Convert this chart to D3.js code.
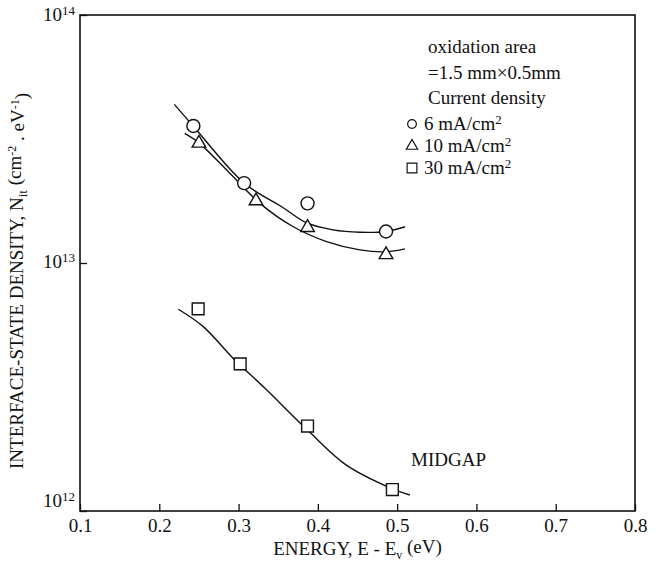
<!DOCTYPE html>
<html>
<head>
<meta charset="utf-8">
<script src="https://cdn.jsdelivr.net/npm/d3@7"></script>
<style>
  body { margin: 0; background: #fff; }
  svg text, svg tspan { font-family: "Liberation Serif", "DejaVu Serif", serif !important; fill: #111; }
</style>
</head>
<body>
<svg width="661" height="564"></svg>
<script>
const width = 661;
const height = 564;
const padLeft = 80, padRight = 635, padTop = 15, padBottom = 511;

// measured points
const energy6 = [0.243, 0.307, 0.387, 0.486];
const nit6 = [3.57e13, 2.10e13, 1.74e13, 1.34e13];
const energy10 = [0.250, 0.322, 0.387, 0.486];
const nit10 = [3.04e13, 1.78e13, 1.39e13, 1.08e13];
const energy30 = [0.249, 0.302, 0.387, 0.494];
const nit30 = [6.53e12, 3.92e12, 2.20e12, 1.22e12];

// hand-drawn fit curves
const fitE6 = [0.219, 0.243, 0.307, 0.354, 0.386, 0.419, 0.453, 0.486, 0.51];
const fitN6 = [4.36e13, 3.56e13, 2.10e13, 1.69e13, 1.45e13, 1.36e13, 1.33e13, 1.34e13, 1.40e13];
const fitE10 = [0.232, 0.250, 0.289, 0.327, 0.369, 0.411, 0.453, 0.486, 0.51];
const fitN10 = [3.33e13, 3.05e13, 2.30e13, 1.74e13, 1.40e13, 1.22e13, 1.13e13, 1.11e13, 1.14e13];
const fitE30 = [0.224, 0.2555, 0.293, 0.333, 0.387, 0.436, 0.491, 0.516];
const fitN30 = [6.51e12, 5.54e12, 4.13e12, 3.13e12, 2.12e12, 1.53e12, 1.24e12, 1.16e12];

const xTicks = [0.1, 0.2, 0.3, 0.4, 0.5, 0.6, 0.7, 0.8];
const yTicks = [1e12, 1e13, 1e14];
const legendLabels = ["6", "10", "30"];

const zip = (xs, ys) => xs.map((x, i) => [x, ys[i]]);

let xScale = d3.scaleLinear()
  .domain([0.1, 0.8])
  .range([padLeft, padRight]);

let yScale = d3.scaleLog()
  .domain([1e12, 1e14])
  .range([padBottom, padTop]);

const svg = d3.select("svg");

// axes
const xAxis = d3.axisBottom(xScale)
  .tickValues(xTicks)
  .tickSize(-7)
  .tickSizeOuter(0)
  .tickPadding(8)
  .tickFormat(d3.format(".1f"));

svg.append("g")
    .attr("transform", `translate(0, ${padBottom})`)
    .call(xAxis)
    .call(g => g.select(".domain").remove())
    .call(g => g.selectAll("line").attr("stroke", "#111").attr("stroke-width", 1.3))
    .call(g => g.selectAll("text").style("font-size", "19px"));

const yAxis = d3.axisLeft(yScale)
  .tickValues(yTicks)
  .tickSize(-7)
  .tickSizeOuter(0)
  .tickFormat("");

svg.append("g")
    .attr("transform", `translate(${padLeft}, 0)`)
    .call(yAxis)
    .call(g => g.select(".domain").remove())
    .call(g => g.selectAll("line").attr("stroke", "#111").attr("stroke-width", 1.3));

// y tick labels 10^n
const yLab = svg.append("g")
  .selectAll("text")
  .data(yTicks)
  .enter()
  .append("text")
    .attr("x", padLeft - 5)
    .attr("y", d => Math.min(Math.max(yScale(d) + 5, 21), 507))
    .attr("text-anchor", "end")
    .style("font-size", "19px");
yLab.append("tspan").text("10");
yLab.append("tspan")
    .attr("dy", "-0.45em")
    .style("font-size", "13px")
    .text(d => Math.round(Math.log10(d)));

// frame
svg.append("rect")
    .attr("x", padLeft)
    .attr("y", padTop)
    .attr("width", padRight - padLeft)
    .attr("height", padBottom - padTop)
    .attr("fill", "none")
    .attr("stroke", "#111")
    .attr("stroke-width", 1.6);

// fit curves
const line = d3.line()
  .x(d => xScale(d[0]))
  .y(d => yScale(d[1]))
  .curve(d3.curveCatmullRom.alpha(0.5));

[zip(fitE6, fitN6), zip(fitE10, fitN10), zip(fitE30, fitN30)].forEach(pts => {
  svg.append("path")
      .datum(pts)
      .attr("d", line)
      .attr("fill", "none")
      .attr("stroke", "#111")
      .attr("stroke-width", 1.4);
});

// markers
const markerStyle = sel => sel
  .attr("fill", "#fff")
  .attr("stroke", "#111")
  .attr("stroke-width", 1.4);

svg.append("g")
  .selectAll("circle")
  .data(zip(energy6, nit6))
  .enter()
  .append("circle")
    .attr("cx", d => xScale(d[0]))
    .attr("cy", d => yScale(d[1]))
    .attr("r", 6.5)
    .call(markerStyle);

const tri = d3.symbol().type(d3.symbolTriangle).size(80);
svg.append("g")
  .selectAll("path")
  .data(zip(energy10, nit10))
  .enter()
  .append("path")
    .attr("d", tri)
    .attr("transform", d => `translate(${xScale(d[0])}, ${yScale(d[1])})`)
    .call(markerStyle);

const sq = d3.symbol().type(d3.symbolSquare).size(140);
svg.append("g")
  .selectAll("path")
  .data(zip(energy30, nit30))
  .enter()
  .append("path")
    .attr("d", sq)
    .attr("transform", d => `translate(${xScale(d[0])}, ${yScale(d[1])})`)
    .call(markerStyle);

// legend
const legend = svg.append("g").style("font-size", "19px");
["oxidation area", "=1.5 mm\u00d70.5mm", "Current density"].forEach((t, i) => {
  legend.append("text")
      .attr("x", 428)
      .attr("y", 53 + i * 25.5)
      .text(t);
});

const legendRows = [124, 146, 168];
const legendShapes = [
  d3.symbol().type(d3.symbolCircle).size(60),
  d3.symbol().type(d3.symbolTriangle).size(55),
  d3.symbol().type(d3.symbolSquare).size(95)
];
legendLabels.forEach((lab, i) => {
  legend.append("path")
      .attr("d", legendShapes[i])
      .attr("transform", `translate(412, ${legendRows[i]})`)
      .attr("fill", "#fff")
      .attr("stroke", "#111")
      .attr("stroke-width", 1.2);
  const t = legend.append("text")
      .attr("x", 424)
      .attr("y", legendRows[i] + 6);
  t.append("tspan").text(`${lab} mA/cm`);
  t.append("tspan").attr("dy", "-0.45em").style("font-size", "13px").text("2");
});

// MIDGAP
svg.append("text")
    .attr("x", 411)
    .attr("y", 466)
    .style("font-size", "19px")
    .text("MIDGAP");

// axis titles
const xt = svg.append("text")
    .attr("x", (padLeft + padRight) / 2)
    .attr("y", 555)
    .attr("text-anchor", "middle")
    .style("font-size", "19px");
xt.append("tspan").text("ENERGY, E - E");
xt.append("tspan").attr("dy", "0.3em").style("font-size", "12px").text("v");
xt.append("tspan").attr("dy", "-0.3em").text(" (eV)");

const yt = svg.append("text")
    .attr("transform", "rotate(-90)")
    .attr("x", -281)
    .attr("y", 23)
    .attr("text-anchor", "middle")
    .style("font-size", "19px");
yt.append("tspan").text("INTERFACE-STATE DENSITY, N");
yt.append("tspan").attr("dy", "0.3em").style("font-size", "13px").text("it");
yt.append("tspan").attr("dy", "-0.3em").text(" (cm");
yt.append("tspan").attr("dy", "-0.45em").style("font-size", "12px").text("-2");
yt.append("tspan").attr("dy", "0.45em").text(" . eV");
yt.append("tspan").attr("dy", "-0.45em").style("font-size", "12px").text("-1");
yt.append("tspan").attr("dy", "0.45em").text(")");
</script>
</body>
</html>
